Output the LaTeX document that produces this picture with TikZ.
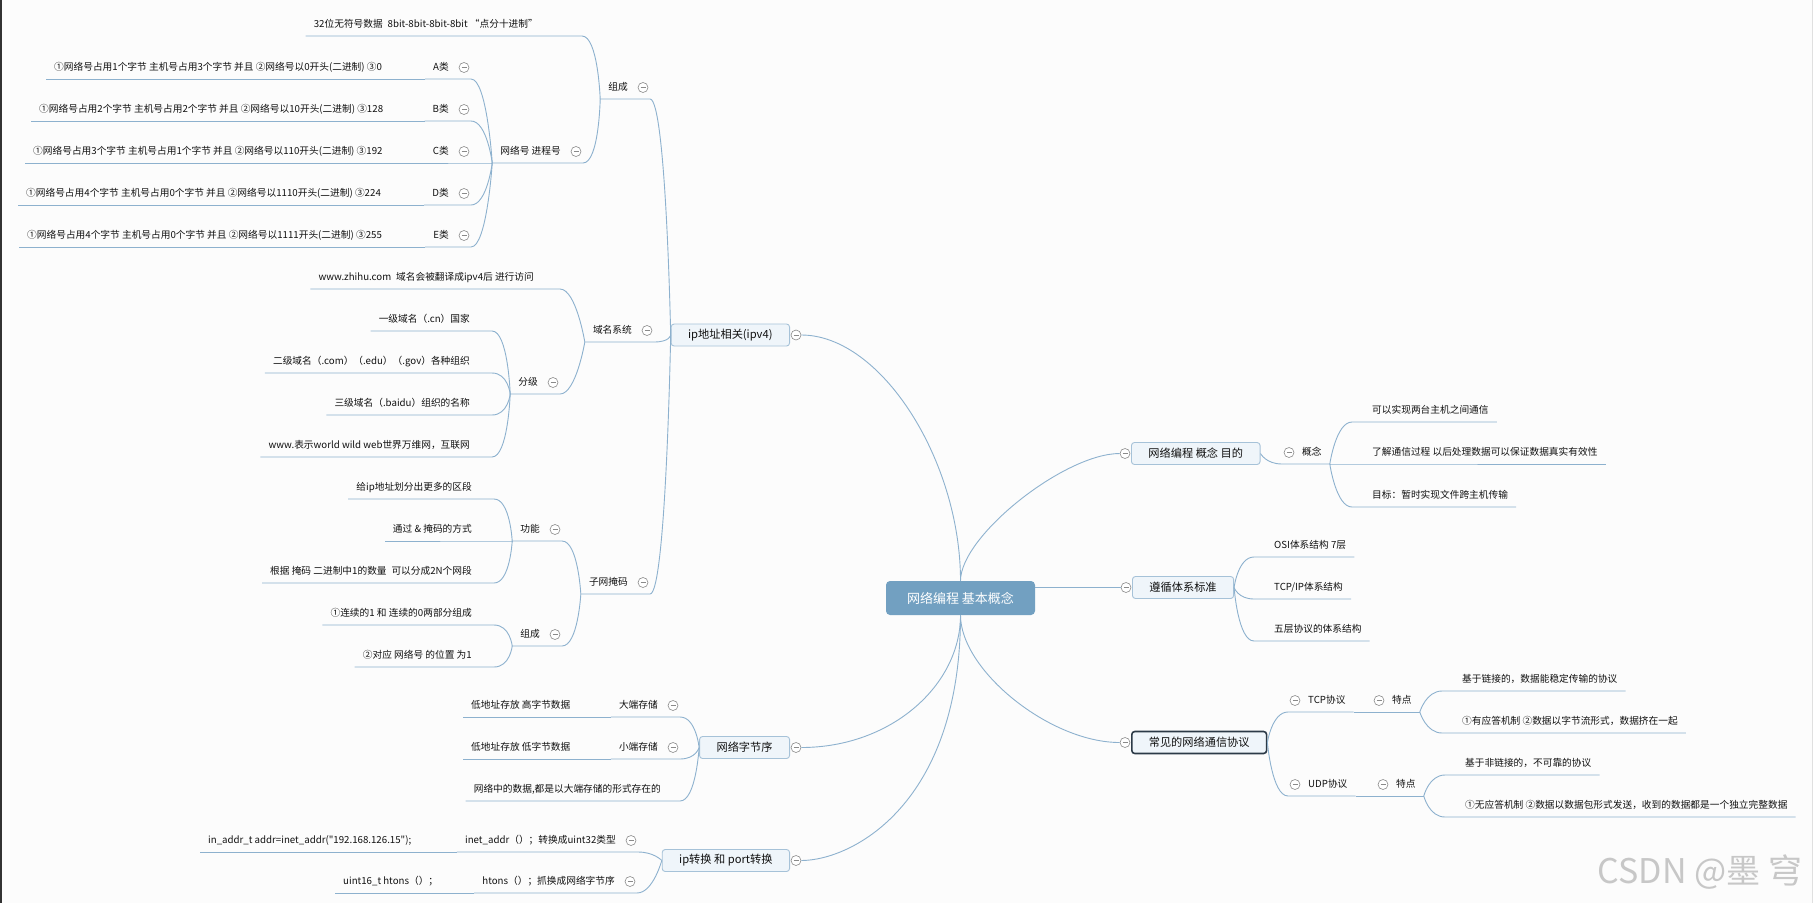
\documentclass[tikz,border=0pt]{standalone}
\usepackage{fontspec}
\setmainfont{Noto Sans CJK SC}
\setmonofont{Noto Sans CJK SC}
\usetikzlibrary{calc}
\definecolor{bgc}{HTML}{FCFCFC}
\definecolor{linec}{HTML}{8DB1CE}
\definecolor{boxline}{HTML}{A6C2D8}
\definecolor{boxfill}{HTML}{EFF5FA}
\definecolor{rootc}{HTML}{72A0C1}
\definecolor{selc}{HTML}{2C3A47}
\definecolor{foldc}{HTML}{8A8A8A}
\definecolor{textc}{HTML}{111111}
\newcommand{\lbranch}[2]{\draw[branch] (#1) .. controls (#1) and ($(#2.south east)+(16,0)$) .. (#2.south east) -- (#2.south west);}
\newcommand{\rbranch}[2]{\draw[branch] (#1) .. controls (#1) and ($(#2.south west)+(-16,0)$) .. (#2.south west) -- (#2.south east);}
\newcommand{\lfold}[1]{\node[fold] (#1-f) at ([shift={(-7,-11.5)}]#1.south east) {};}
\newcommand{\rfold}[1]{\node[fold] (#1-f) at ([shift={(7,-11.5)}]#1.south west) {};}

\begin{document}
\begin{tikzpicture}[
    x=1pt, y=-1pt,
    branch/.style={draw=linec, line width=0.9pt},
    topic/.style={text=textc, font=\fontsize{9.7}{11}\selectfont, inner xsep=8pt, inner ysep=5.5pt, text height=8pt, text depth=2.5pt},
    lnode/.style={topic, anchor=south east, execute at end node={\hspace*{#1}}},
    lnode/.default=14pt,
    rnode/.style={topic, anchor=south west, execute at begin node={\hspace*{#1}}},
    rnode/.default=12pt,
    lleaf/.style={topic, anchor=south west},
    box/.style={draw=boxline, fill=boxfill, line width=0.9pt, rounded corners=3pt, text=textc, font=\fontsize{11.2}{13}\selectfont, inner xsep=17pt, minimum height=22pt},
    rootbox/.style={fill=rootc, rounded corners=4pt, text=white, font=\fontsize{13}{15}\selectfont, minimum width=149pt, minimum height=34pt},
    fold/.style={circle, draw=foldc, fill=white, line width=0.6pt, minimum size=10pt, inner sep=0pt, path picture={\draw[foldc, line width=0.6pt] ([xshift=2.5pt]path picture bounding box.west) -- ([xshift=-2.5pt]path picture bounding box.east);}},
    wm/.style={text=black!22, inner sep=0pt, font=\fontsize{34}{36}\selectfont}
]
\fill[bgc] (0,0) rectangle (1813,903);
\useasboundingbox (0,0) rectangle (1813,903);
\draw[black!80, line width=2pt] (1,0) -- (1,903);
\draw[black!12, line width=1pt] (1812.5,0) -- (1812.5,903);

\node[rootbox] (root) at (960.5,598) {网络编程 基本概念};

\node[box, anchor=east] (ip) at (790,335) {ip地址相关(ipv4)};
\node[box, anchor=east] (order) at (790,747.5) {网络字节序};
\node[box, anchor=east] (conv) at (790,860.5) {ip转换 和 port转换};
\node[box, anchor=west] (aim) at (1131,453.5) {网络编程 概念 目的};
\node[box, anchor=west] (std) at (1132,587.5) {遵循体系标准};
\node[box, anchor=west, draw=selc, line width=1.6pt] (proto) at (1131,742.5) {常见的网络通信协议};
\foreach \n in {ip,order,conv} \node[fold] (\n-f) at ([xshift=6]\n.east) {};
\foreach \n in {aim,std,proto} \node[fold] (\n-f) at ([xshift=-6]\n.west) {};

\draw[branch] (root.north) .. controls ($(root.north)+(0,-120)$) and ($(ip-f.east)+(80,0)$) .. (ip-f.east);
\draw[branch] (root.north) .. controls ($(root.north)+(0,-45)$) and ($(aim-f.west)+(-55,0)$) .. (aim-f.west);
\draw[branch] (root.east |- std-f.west) -- (std-f.west);
\draw[branch] (root.south) .. controls ($(root.south)+(0,55)$) and ($(proto-f.west)+(-70,0)$) .. (proto-f.west);
\draw[branch] (root.south) .. controls ($(root.south)+(0,70)$) and ($(order-f.east)+(90,0)$) .. (order-f.east);
\draw[branch] (root.south) .. controls ($(root.south)+(0,190)$) and ($(conv-f.east)+(50,0)$) .. (conv-f.east);

\node[lnode] (zc) at (650,99) {组成}; \lfold{zc}
\node[lnode=36pt] (bits) at (582,36) {32位无符号数据\enspace 8bit-8bit-8bit-8bit “点分十进制”};
\node[lnode] (wl) at (583,163) {网络号 进程号}; \lfold{wl}
\node[lnode] (ca) at (471,79) {A类}; \lfold{ca}
\node[lnode] (cb) at (471,121) {B类}; \lfold{cb}
\node[lnode] (cc) at (471,163) {C类}; \lfold{cc}
\node[lnode] (cd) at (471,205) {D类}; \lfold{cd}
\node[lnode] (ce) at (471,247) {E类}; \lfold{ce}
\node[lleaf] (ca1) at (46,79) {①网络号占用1个字节 主机号占用3个字节 并且 ②网络号以0开头(二进制) ③0};
\node[lleaf] (cb1) at (31,121) {①网络号占用2个字节 主机号占用2个字节 并且 ②网络号以10开头(二进制) ③128};
\node[lleaf] (cc1) at (25,163) {①网络号占用3个字节 主机号占用1个字节 并且 ②网络号以110开头(二进制) ③192};
\node[lleaf] (cd1) at (18,205) {①网络号占用4个字节 主机号占用0个字节 并且 ②网络号以1110开头(二进制) ③224};
\node[lleaf] (ce1) at (19,247) {①网络号占用4个字节 主机号占用0个字节 并且 ②网络号以1111开头(二进制) ③255};

\node[lnode] (dns) at (654,342) {域名系统}; \lfold{dns}
\node[lnode=18pt] (zhihu) at (560,289) {www.zhihu.com\enspace 域名会被翻译成ipv4后 进行访问};
\node[lnode] (lv) at (560,394) {分级}; \lfold{lv}
\node[lnode] (lv1) at (492,331) {一级域名（.cn）国家};
\node[lnode] (lv2) at (492,373) {二级域名（.com）（.edu）（.gov）各种组织};
\node[lnode] (lv3) at (492,415) {三级域名（.baidu）组织的名称};
\node[lnode] (lv4) at (492,457) {www.表示world wild web世界万维网，互联网};

\node[lnode] (mask) at (650,594) {子网掩码}; \lfold{mask}
\node[lnode] (fn) at (562,541) {功能}; \lfold{fn}
\node[lnode] (fn1) at (494,499) {给ip地址划分出更多的区段};
\node[lnode] (fn2) at (494,541) {通过 \& 掩码的方式};
\node[lnode] (fn3) at (494,583) {根据 掩码 二进制中1的数量\enspace 可以分成2N个网段};
\node[lnode] (mc) at (562,646) {组成}; \lfold{mc}
\node[lnode] (mc1) at (494,625) {①连续的1 和 连续的0两部分组成};
\node[lnode] (mc2) at (494,667) {②对应 网络号 的位置 为1};

\node[lnode] (big) at (680,717) {大端存储}; \lfold{big}
\node[lleaf] (big1) at (463,717) {低地址存放 高字节数据};
\node[lnode] (little) at (680,759) {小端存储}; \lfold{little}
\node[lleaf] (little1) at (463,759) {低地址存放 低字节数据};
\node[lnode=11pt] (net) at (680,801) {网络中的数据,都是以大端存储的形式存在的};

\node[lnode] (inet) at (638,852) {inet\_addr（）；转换成uint32类型}; \lfold{inet}
\node[lleaf] (inet1) at (200,852) {\ttfamily in\_addr\_t addr=inet\_addr("192.168.126.15");};
\node[lnode] (hton) at (637,893) {htons（）；抓换成网络字节序}; \lfold{hton}
\node[lleaf] (hton1) at (335,893) {uint16\_t htons（）；};

\node[rnode] (cpt) at (1282,464) {概念}; \rfold{cpt}
\node[rnode] (cpt1) at (1352,422) {可以实现两台主机之间通信};
\node[rnode] (cpt2) at (1352,464) {了解通信过程 以后处理数据可以保证数据真实有效性};
\node[rnode] (cpt3) at (1352,507) {目标：暂时实现文件跨主机传输};

\node[rnode] (osi) at (1254,557) {OSI体系结构 7层};
\node[rnode] (tcpip) at (1254,599) {TCP/IP体系结构};
\node[rnode] (five) at (1254,641) {五层协议的体系结构};

\node[rnode] (tcp) at (1288,712) {TCP协议}; \rfold{tcp}
\node[rnode] (tcpf) at (1372,712) {特点}; \rfold{tcpf}
\node[rnode] (tcp1) at (1442,691) {基于链接的，数据能稳定传输的协议};
\node[rnode] (tcp2) at (1442,733) {①有应答机制 ②数据以字节流形式，数据挤在一起};
\node[rnode] (udp) at (1288,796) {UDP协议}; \rfold{udp}
\node[rnode] (udpf) at (1376,796) {特点}; \rfold{udpf}
\node[rnode] (udp1) at (1445,775) {基于非链接的，不可靠的协议};
\node[rnode] (udp2) at (1445,817) {①无应答机制 ②数据以数据包形式发送，收到的数据都是一个独立完整数据};

\node[wm] (mark) at (1700,872) {CSDN @墨 穹};

\foreach \n in {zc,dns,mask} {\lbranch{ip.west}{\n}}
\foreach \n in {bits,wl} {\lbranch{zc.south west}{\n}}
\foreach \n in {ca,cb,cc,cd,ce} {\lbranch{wl.south west}{\n} \draw[branch] (\n.south west) -- (\n1.south west);}
\foreach \n in {zhihu,lv} {\lbranch{dns.south west}{\n}}
\foreach \n in {lv1,lv2,lv3,lv4} {\lbranch{lv.south west}{\n}}
\foreach \n in {fn,mc} {\lbranch{mask.south west}{\n}}
\foreach \n in {fn1,fn2,fn3} {\lbranch{fn.south west}{\n}}
\foreach \n in {mc1,mc2} {\lbranch{mc.south west}{\n}}
\foreach \n in {big,little,net} {\lbranch{order.west}{\n}}
\foreach \n in {big,little} {\draw[branch] (\n.south west) -- (\n1.south west);}
\foreach \n in {inet,hton} {\lbranch{conv.west}{\n} \draw[branch] (\n.south west) -- (\n1.south west);}

\rbranch{aim.east}{cpt}
\foreach \n in {cpt1,cpt2,cpt3} {\rbranch{cpt.south east}{\n}}
\foreach \n in {osi,tcpip,five} {\rbranch{std.east}{\n}}
\foreach \n in {tcp,udp} {\rbranch{proto.east}{\n} \draw[branch] (\n.south east) -- (\n f.south east);}
\foreach \n in {tcp1,tcp2} {\rbranch{tcpf.south east}{\n}}
\foreach \n in {udp1,udp2} {\rbranch{udpf.south east}{\n}}
\end{tikzpicture}
\end{document}
